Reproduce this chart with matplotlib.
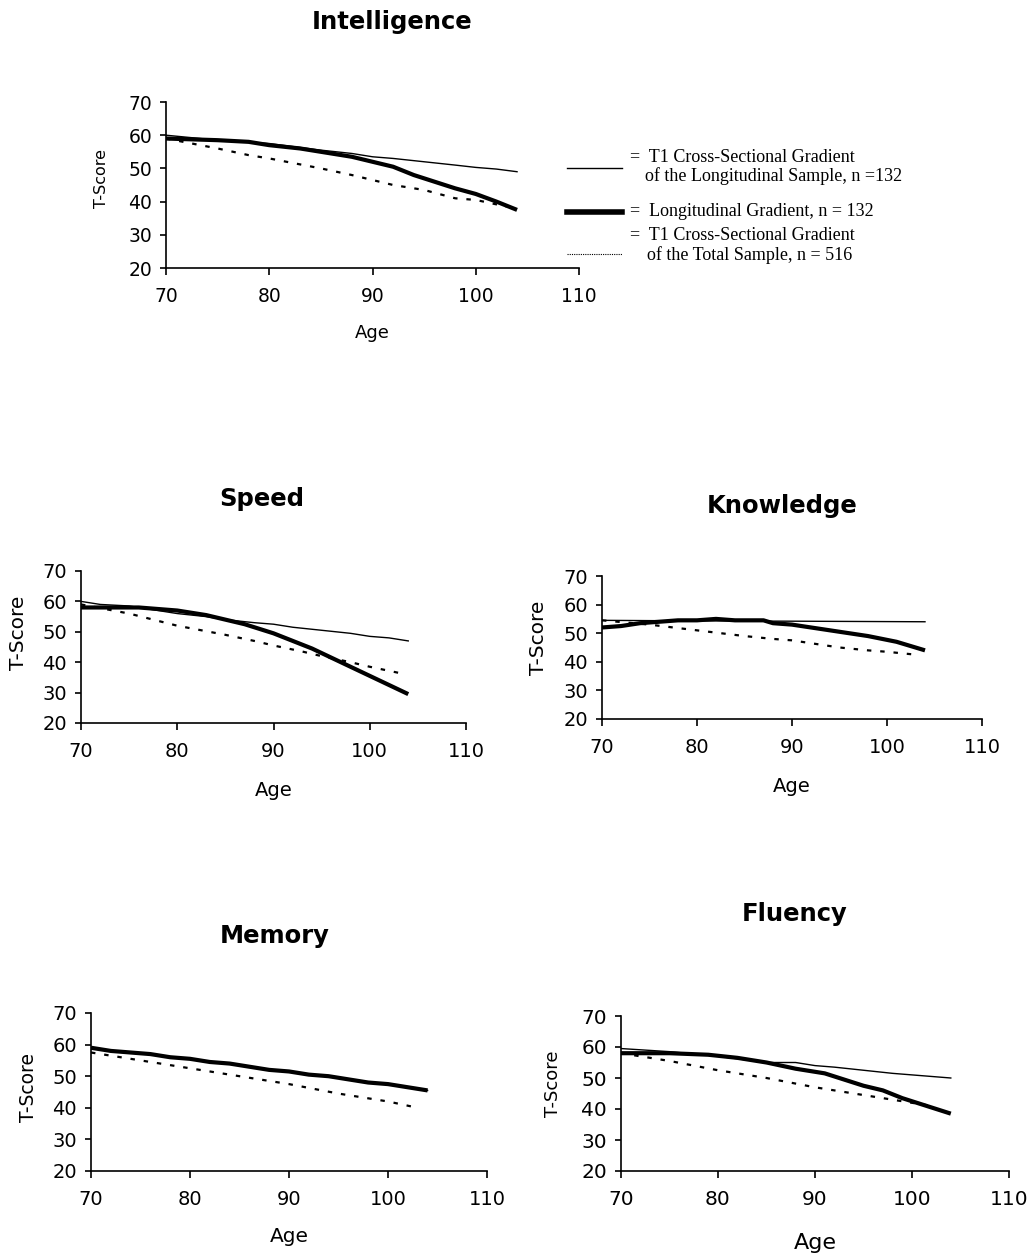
import matplotlib
matplotlib.use('Agg')
import matplotlib.pyplot as plt
from matplotlib.lines import Line2D

plt.rcParams['font.family'] = ['DejaVu Sans']

W, H = 1031, 1255

# ---- data ----
# Intelligence
int_thin_x = [70, 75, 80, 85, 88, 90, 92, 95, 98, 100, 102, 104]
int_thin_y = [60, 58.5, 57.5, 55.5, 54.5, 53.5, 53, 52, 51, 50.3, 49.8, 49]
int_thick_x = [70, 75, 78, 80, 83, 85, 87, 88, 90, 92, 94, 96, 98, 100, 102, 104]
int_thick_y = [59, 58.5, 58, 57, 56, 55, 54, 53.5, 52, 50.5, 48, 46, 44, 42.3, 40, 37.5]
int_dot_x = [70, 75, 78, 80, 85, 88, 90, 92, 95, 98, 100, 103]
int_dot_y = [59, 56, 54, 53, 50, 48, 46.5, 45, 43.5, 41, 40.5, 38.5]

# Speed
spd_thin_x = [70, 72, 75, 80, 83, 85, 88, 90, 92, 95, 98, 100, 102, 104]
spd_thin_y = [60, 59, 58.5, 56, 55, 54, 53, 52.5, 51.5, 50.5, 49.5, 48.5, 48, 47]
spd_thick_x = [70, 73, 76, 80, 83, 85, 87, 88, 90, 92, 94, 96, 98, 100, 102, 104]
spd_thick_y = [58, 58, 58, 57, 55.5, 54, 52.5, 51.5, 49.5, 47, 44.5, 41.5, 38.5, 35.5, 32.5, 29.5]
spd_dot_x = [70, 75, 80, 85, 88, 90, 93, 95, 98, 100, 103]
spd_dot_y = [59, 56, 52, 49, 47, 45.5, 43.5, 42, 40, 38.5, 36.5]

# Knowledge
kno_thin_x = [70, 80, 90, 104]
kno_thin_y = [54.5, 54.3, 54.2, 54]
kno_thick_x = [70, 72, 74, 76, 78, 80, 82, 84, 87, 88, 90, 92, 95, 98, 101, 104]
kno_thick_y = [52, 52.5, 53.5, 54, 54.5, 54.5, 55, 54.5, 54.5, 53.5, 53, 52, 50.5, 49, 47, 44]
kno_dot_x = [70, 75, 80, 85, 88, 90, 93, 95, 98, 100, 103]
kno_dot_y = [54.5, 53, 51, 49, 48, 47.5, 46, 45, 44, 43.5, 42.5]

# Memory (thin line lies under the thick one)
mem_thick_x = [70, 72, 74, 76, 78, 80, 82, 84, 86, 88, 90, 92, 94, 96, 98, 100, 102, 104]
mem_thick_y = [59, 58, 57.5, 57, 56, 55.5, 54.5, 54, 53, 52, 51.5, 50.5, 50, 49, 48, 47.5, 46.5, 45.5]
mem_thin_x = mem_thick_x
mem_thin_y = mem_thick_y
mem_dot_x = [70, 75, 80, 85, 90, 95, 100, 103]
mem_dot_y = [57.5, 55, 52.5, 50, 47.5, 44.5, 42, 40]

# Fluency
flu_thin_x = [70, 75, 80, 85, 88, 90, 92, 95, 98, 100, 102, 104]
flu_thin_y = [59.5, 58.5, 57, 55, 55, 54, 53.5, 52.5, 51.5, 51, 50.5, 50]
flu_thick_x = [70, 75, 79, 82, 85, 88, 91, 93, 95, 97, 99, 101, 104]
flu_thick_y = [58, 58, 57.5, 56.5, 55, 53, 51.5, 49.5, 47.5, 46, 43.5, 41.5, 38.5]
flu_dot_x = [70, 75, 80, 85, 90, 95, 100, 102]
flu_dot_y = [58, 55.5, 52.5, 50, 47, 44.5, 42, 41]

x_ticks = [70, 80, 90, 100, 110]
y_ticks = [20, 30, 40, 50, 60, 70]

# panels: title, data, axes box px (l, r, t, b), title (x, y), Age y, T-Score (x, y), tick fs, label fs
panels = [
    ('Intelligence', (int_thin_x, int_thin_y, int_thick_x, int_thick_y, int_dot_x, int_dot_y),
     (166, 579, 102, 268), (392, 22), 333, (102, 178), 13.5, 13, 11.5),
    ('Speed', (spd_thin_x, spd_thin_y, spd_thick_x, spd_thick_y, spd_dot_x, spd_dot_y),
     (81, 466, 571, 723), (262, 499), 790, (18, 633), 14, 14, 14.5),
    ('Knowledge', (kno_thin_x, kno_thin_y, kno_thick_x, kno_thick_y, kno_dot_x, kno_dot_y),
     (602, 982, 576, 719), (782, 506), 787, (538, 638), 14, 14, 14.5),
    ('Memory', (mem_thin_x, mem_thin_y, mem_thick_x, mem_thick_y, mem_dot_x, mem_dot_y),
     (91, 487, 1013, 1171), (275, 936), 1237, (28, 1087), 14, 14.5, 13.5),
    ('Fluency', (flu_thin_x, flu_thin_y, flu_thick_x, flu_thick_y, flu_dot_x, flu_dot_y),
     (621, 1009, 1016, 1171), (795, 914), 1243, (553, 1084), 14.5, 16, 13),
]

fig = plt.figure(figsize=(W / 100, H / 100), dpi=100)

for title, d, (l, r, t, b), (tx, ty), ly, (sx, sy), fs, lfs, sfs in panels:
    ax = fig.add_axes([l / W, 1 - b / H, (r - l) / W, (b - t) / H])
    ax.plot(d[0], d[1], color='black', lw=1.0)
    ax.plot(d[2], d[3], color='black', lw=3.0, solid_capstyle='butt')
    ax.plot(d[4], d[5], color='black', lw=1.6, linestyle=(0, (2, 4)))
    ax.set_xlim(70, 110)
    ax.set_ylim(20, 70)
    ax.set_xticks(x_ticks)
    ax.set_yticks(y_ticks)
    ax.spines['top'].set_visible(False)
    ax.spines['right'].set_visible(False)
    ax.spines['left'].set_linewidth(1.2)
    ax.spines['bottom'].set_linewidth(1.2)
    ax.tick_params(axis='x', direction='out', length=5, width=1.2, labelsize=fs, pad=9)
    ax.tick_params(axis='y', direction='out', length=4, width=1.2, labelsize=fs, pad=6)
    fig.text(sx / W, 1 - sy / H, 'T-Score', rotation=90, ha='center', va='center', fontsize=sfs)
    fig.text(tx / W, 1 - ty / H, title, ha='center', va='center',
             fontsize=17.5, fontweight='bold')
    fig.text((l + r) / 2 / W, 1 - ly / H, 'Age', ha='center', va='center', fontsize=lfs)

# hand-drawn legend next to the Intelligence panel
def fx(px):
    return px / W

def fy(py):
    return 1 - py / H

fig.add_artist(Line2D([fx(567), fx(622)], [fy(168), fy(168)], color='black', lw=1.0))
fig.add_artist(Line2D([fx(567), fx(622)], [fy(212), fy(212)], color='black', lw=4.0))
fig.add_artist(Line2D([fx(567), fx(622)], [fy(254), fy(254)], color='black', lw=0.8,
                      linestyle=(0, (1, 1))))

serif = ['Liberation Serif', 'DejaVu Serif']
leg_fs = 13
fig.text(fx(630), fy(157), '=  T1 Cross-Sectional Gradient', va='center', fontsize=leg_fs, family=serif)
fig.text(fx(645), fy(176), 'of the Longitudinal Sample, n =132', va='center', fontsize=leg_fs, family=serif)
fig.text(fx(630), fy(212), '=  Longitudinal Gradient, n = 132', va='center', fontsize=leg_fs, family=serif)
fig.text(fx(630), fy(236), '=  T1 Cross-Sectional Gradient', va='center', fontsize=leg_fs, family=serif)
fig.text(fx(647), fy(255), 'of the Total Sample, n = 516', va='center', fontsize=leg_fs, family=serif)

fig.savefig('out.png', dpi=100)
